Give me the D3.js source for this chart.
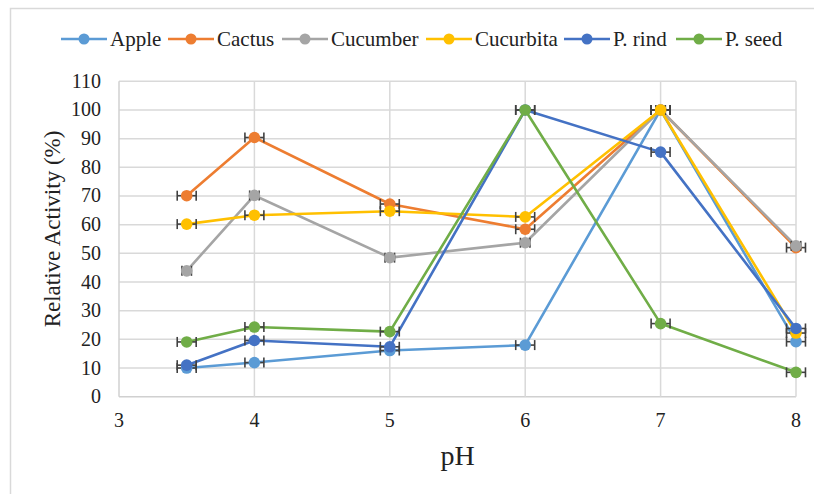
<!DOCTYPE html>
<html>
<head>
<meta charset="utf-8">
<script src="https://cdn.jsdelivr.net/npm/d3@7"></script>
<style>
  body{margin:0;background:#fff;}
</style>
</head>
<body>
<div id="container"></div>
<script>
let w=814;
let h=494;

// pH values and readings (relative activity %)
let phValues = [3.5, 4, 5, 6, 7, 8];
let seriesNames = ["Apple", "Cactus", "Cucumber", "Cucurbita", "P. rind", "P. seed"];
let apple     = [10, 11.9, 16.1, 18, 100, 19.2];
let cactus    = [70.1, 90.4, 67.2, 58.4, 100, 52];
let cucumber  = [43.9, 70.2, 48.5, 53.7, 100, 52.6];
let cucurbita = [60.2, 63.3, 64.7, 62.7, 100, 22.2];
let pRind     = [11, 19.6, 17.4, 100, 85.3, 23.8];
let pSeed     = [19.1, 24.3, 22.7, 100, 25.5, 8.5];
// horizontal error (pH units)
let xErrors = [0.07, 0.07, 0.035, 0.07, 0.07, 0.07];
let xTicks = [3, 4, 5, 6, 7, 8];
let yTicks = [0, 10, 20, 30, 40, 50, 60, 70, 80, 90, 100, 110];

let colors = ["#5B9BD5", "#ED7D31", "#A5A5A5", "#FFC000", "#4472C4", "#70AD47"];
let allValues = [apple, cactus, cucumber, cucurbita, pRind, pSeed];
let serif = "Liberation Serif";

let series = seriesNames.map(function(name,i){
  return {
    name: name,
    color: colors[i],
    err: xErrors[i],
    points: phValues.map(function(p,j){ return {ph:p, v:allValues[i][j]}; })
  };
});

let viz = d3.select("#container")
  .append("svg")
    .attr("width",w)
    .attr("height",h)
    .style("display","block")
;

// chart border
viz.append("rect")
  .attr("x",10.5)
  .attr("y",8.5)
  .attr("width",820)
  .attr("height",500)
  .attr("fill","white")
  .attr("stroke","#d9d9d9")
  .attr("stroke-width",1.5)
;

let x = d3.scaleLinear().domain([3,8]).range([119,796]);
let y = d3.scaleLinear().domain([0,110]).range([396.7,81.3]);

// grid
viz.selectAll(".hgrid").data(yTicks).enter()
  .append("line")
    .attr("x1",x(3))
    .attr("x2",x(8))
    .attr("y1",function(d){ return y(d); })
    .attr("y2",function(d){ return y(d); })
    .attr("stroke",function(d){ return d==0 ? "#d0d0d0" : "#d9d9d9"; })
    .attr("stroke-width",1.5)
;
viz.selectAll(".vgrid").data(xTicks).enter()
  .append("line")
    .attr("x1",function(d){ return x(d); })
    .attr("x2",function(d){ return x(d); })
    .attr("y1",y(0))
    .attr("y2",y(110))
    .attr("stroke",function(d){ return d==3 ? "#d0d0d0" : "#d9d9d9"; })
    .attr("stroke-width",1.5)
;

// tick labels, placed from the scales
viz.selectAll(".xlabel").data(xTicks).enter()
  .append("text")
    .attr("x",function(d){ return x(d); })
    .attr("y",y(0)+30.5)
    .attr("text-anchor","middle")
    .attr("font-family",serif)
    .attr("font-size",20)
    .attr("fill","#222")
    .text(function(d){ return d; })
;
viz.selectAll(".ylabel").data(yTicks).enter()
  .append("text")
    .attr("x",x(3)-18)
    .attr("y",function(d){ return y(d)+6.5; })
    .attr("text-anchor","end")
    .attr("font-family",serif)
    .attr("font-size",20)
    .attr("fill","#222")
    .text(function(d){ return d; })
;

// axis titles
viz.append("text")
  .attr("x",457.5)
  .attr("y",465)
  .attr("text-anchor","middle")
  .attr("font-family",serif)
  .attr("font-size",28)
  .attr("fill","#222")
  .text("pH")
;
viz.append("text")
  .attr("x",60)
  .attr("y",229)
  .attr("transform","rotate(-90,60,229)")
  .attr("text-anchor","middle")
  .attr("font-family",serif)
  .attr("font-size",23)
  .attr("fill","#222")
  .text("Relative Activity (%)")
;

// lines, error bars and markers
let line = d3.line()
  .x(function(d){ return x(d.ph); })
  .y(function(d){ return y(d.v); })
;

let groups = viz.selectAll(".series").data(series).enter()
  .append("g")
    .attr("class","series")
;

groups.append("path")
  .attr("d",function(d){ return line(d.points); })
  .attr("fill","none")
  .attr("stroke",function(d){ return d.color; })
  .attr("stroke-width",2.6)
  .attr("stroke-linejoin","round")
;

groups.each(function(s){
  let g = d3.select(this);
  let bars = g.selectAll(".err").data(s.points).enter()
    .append("g")
      .attr("class","err")
      .attr("stroke","#404040")
      .attr("stroke-width",1.6)
  ;
  bars.append("line")
    .attr("x1",function(d){ return x(d.ph - s.err); })
    .attr("x2",function(d){ return x(d.ph + s.err); })
    .attr("y1",function(d){ return y(d.v); })
    .attr("y2",function(d){ return y(d.v); })
  ;
  bars.append("line")
    .attr("x1",function(d){ return x(d.ph - s.err); })
    .attr("x2",function(d){ return x(d.ph - s.err); })
    .attr("y1",function(d){ return y(d.v)-5; })
    .attr("y2",function(d){ return y(d.v)+5; })
  ;
  bars.append("line")
    .attr("x1",function(d){ return x(d.ph + s.err); })
    .attr("x2",function(d){ return x(d.ph + s.err); })
    .attr("y1",function(d){ return y(d.v)-5; })
    .attr("y2",function(d){ return y(d.v)+5; })
  ;
  g.selectAll(".dot").data(s.points).enter()
    .append("circle")
      .attr("cx",function(d){ return x(d.ph); })
      .attr("cy",function(d){ return y(d.v); })
      .attr("r",5.8)
      .attr("fill",s.color)
  ;
});

// legend
let legendX = [61, 168, 282, 426, 564, 676];
let legendY = 39;
let legend = viz.selectAll(".legend").data(series).enter()
  .append("g")
    .attr("class","legend")
;
legend.append("line")
  .attr("x1",function(d,i){ return legendX[i]; })
  .attr("x2",function(d,i){ return legendX[i]+46; })
  .attr("y1",legendY)
  .attr("y2",legendY)
  .attr("stroke",function(d){ return d.color; })
  .attr("stroke-width",2.6)
;
legend.append("circle")
  .attr("cx",function(d,i){ return legendX[i]+23; })
  .attr("cy",legendY)
  .attr("r",5.5)
  .attr("fill",function(d){ return d.color; })
;
legend.append("text")
  .attr("x",function(d,i){ return legendX[i]+49; })
  .attr("y",legendY+7)
  .attr("font-family",serif)
  .attr("font-size",21)
  .attr("fill","#222")
  .text(function(d){ return d.name; })
;
</script>
</body>
</html>
